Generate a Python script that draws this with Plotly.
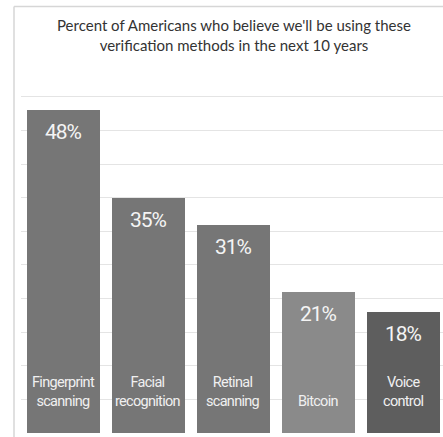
import plotly.graph_objects as go

categories = ["Fingerprint<br>scanning", "Facial<br>recognition", "Retinal<br>scanning", "Bitcoin", "Voice<br>control"]
values = [48, 35, 31, 21, 18]
value_labels = ["48%", "35%", "31%", "21%", "18%"]
bar_colors = ["#767676", "#767676", "#767676", "#8a8a8a", "#5e5e5e"]
title_text = "Percent of Americans who believe we'll be using these<br>verification methods in the next 10 years"

W, H = 443, 437
ml, mr, mt, mb = 21, 0, 63, 4
ph = H - mt - mb
pw = W - ml - mr

def narrow(s, ls):
    return "<br>".join(f'<span style="letter-spacing:{ls}px">{p}</span>' for p in s.split("<br>"))

x = list(range(len(categories)))
fig = go.Figure()
fig.add_trace(go.Bar(x=x, y=values, marker=dict(color=bar_colors, line=dict(width=0)),
                     width=0.865, hoverinfo="skip"))

annotations = []
for i, (v, lab, cat) in enumerate(zip(values, value_labels, categories)):
    annotations.append(dict(x=i, y=v, xref="x", yref="y", text=narrow(lab, -1), showarrow=False,
                            yanchor="top", yshift=-8,
                            font=dict(family="Roboto", size=21, color="#f4f4f4")))
    annotations.append(dict(x=i, y=0, xref="x", yref="y", text=narrow(cat, -0.7), showarrow=False,
                            yanchor="bottom", yshift=21,
                            font=dict(family="Roboto", size=14.5, color="#f0f0f0")))
annotations.append(dict(x=(234 - ml) / pw, y=(H - mb - 35.5) / ph, xref="paper", yref="paper",
                        text=title_text, showarrow=False, xanchor="center", yanchor="middle",
                        font=dict(family="Lato", size=15, color="#333333")))

bx = (14 - ml) / pw
by = (H - mb - 6.5) / ph
shapes = [
    dict(type="line", xref="paper", yref="paper", x0=bx, x1=bx, y0=-0.2, y1=by,
         line=dict(color="#d6d6d6", width=1.5)),
    dict(type="line", xref="paper", yref="paper", x0=bx, x1=1.2, y0=by, y1=by,
         line=dict(color="#d6d6d6", width=1.5)),
]

fig.update_layout(
    width=W, height=H,
    margin=dict(l=ml, r=mr, t=mt, b=mb, pad=0),
    paper_bgcolor="white", plot_bgcolor="white",
    showlegend=False,
    annotations=annotations,
    shapes=shapes,
    xaxis=dict(range=[-0.5, 4.465], showticklabels=False, showgrid=False, zeroline=False,
               ticks="", fixedrange=True),
    yaxis=dict(range=[0, 55.05], dtick=5, showticklabels=False, showgrid=True,
               gridcolor="#e4e4e4", gridwidth=1, zeroline=False, ticks="", fixedrange=True),
    bargap=0,
)
fig.add_trace(go.Scatter(x=[None], y=[None]))

fig.write_html("out.html")
